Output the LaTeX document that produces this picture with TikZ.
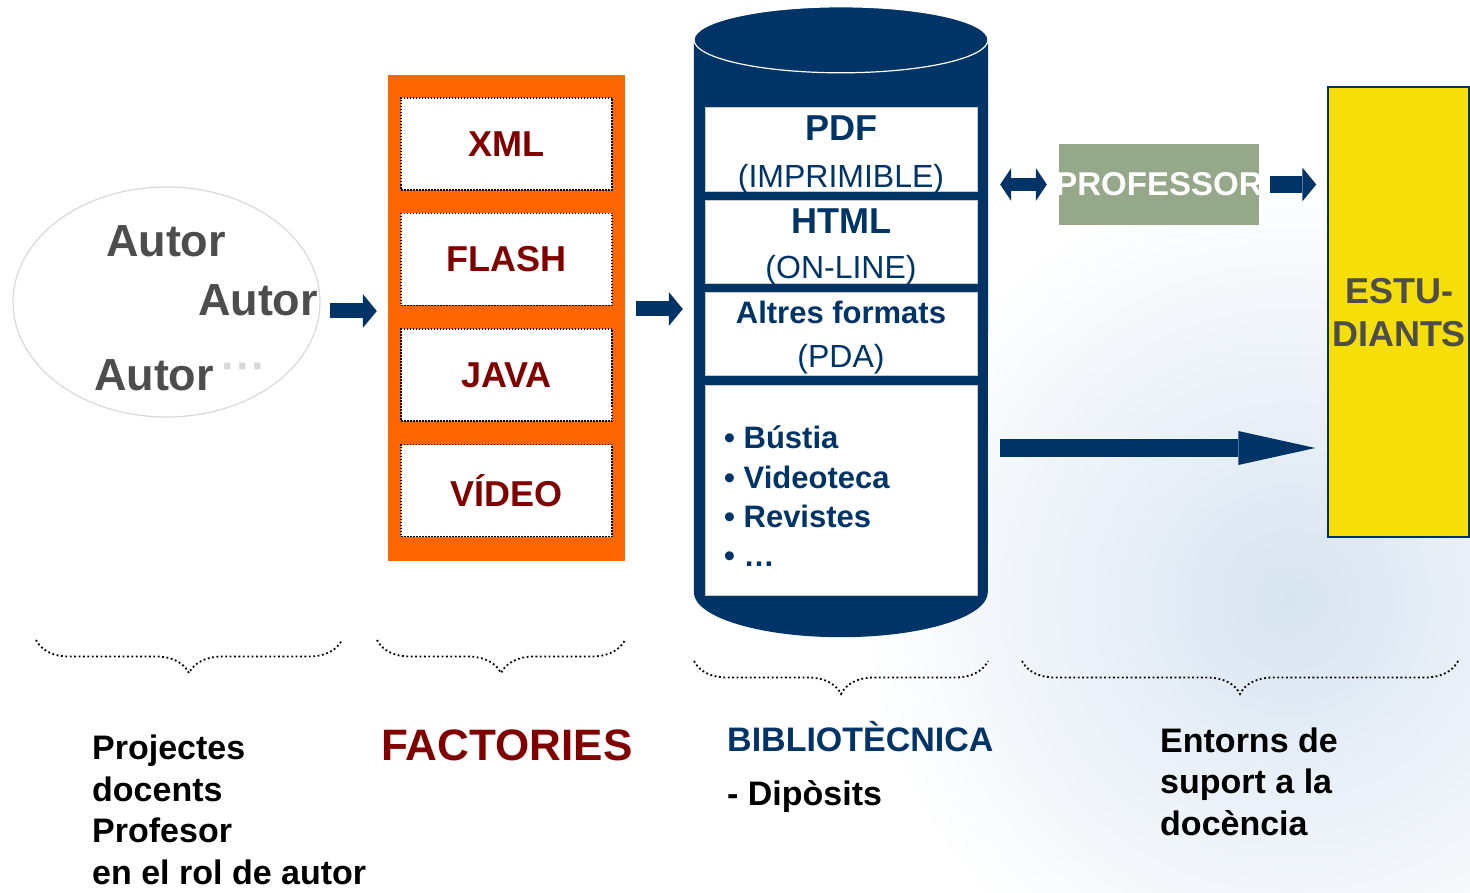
\documentclass[tikz,border=0pt]{standalone}
\usepackage{fontspec}
\setmainfont{Liberation Sans}
\usepackage{tikz}
\usetikzlibrary{shapes.geometric}
\usetikzlibrary{arrows.meta}
\usetikzlibrary{decorations.pathreplacing}
\usetikzlibrary{positioning}

\definecolor{navy}{RGB}{0,51,102}
\definecolor{fabrica}{RGB}{255,102,0}
\definecolor{granat}{RGB}{128,0,0}
\definecolor{gris}{RGB}{77,77,77}
\definecolor{grisclar}{RGB}{217,217,217}
\definecolor{vora}{RGB}{200,200,200}
\definecolor{verd}{RGB}{149,168,138}
\definecolor{groc}{RGB}{246,222,8}
\definecolor{globus}{RGB}{216,228,241}

\begin{document}
\begin{tikzpicture}
		[x=1pt, y=-1pt, node distance={115.5pt},
		autor/.style = {text=gris, inner sep=0pt, font=\fontsize{45}{50}\selectfont\bfseries},
		fbox/.style = {draw, dash pattern=on 1.5pt off 1.5pt, line width=1.5pt, fill=white, minimum width=211pt, minimum height=92pt, inner sep=0pt, text=granat, font=\fontsize{36}{40}\selectfont\bfseries},
		panel/.style = {draw=vora, line width=1pt, fill=white, minimum width=272pt, inner sep=0pt},
		format/.style = {inner sep=0pt, text=navy, align=center},
		fletxa/.style = {draw=navy, line width=15pt, -{Triangle[length=14pt, width=34pt, line width=0pt]}},
		doble/.style = {draw=navy, line width=13pt, {Triangle[length=11pt, width=33pt, line width=0pt]}-{Triangle[length=11pt, width=33pt, line width=0pt]}},
		clau/.style = {decorate, decoration={brace, mirror, amplitude=33pt}, dash pattern=on 1.8pt off 2.6pt, line width=1.8pt},
		peu/.style = {inner sep=0pt, align=left, font=\fontsize{34}{41.5}\selectfont\bfseries}]
	\useasboundingbox (0,0) rectangle (1470,893);
	\shade[inner color=globus, outer color=white] (1290,600) circle (430pt);

	\node[ellipse, draw=grisclar, line width=1.2pt, minimum width=307pt, minimum height=230pt] (autors) at (166.5,302) {};
	\node[autor] (autor1) at (166,241) {Autor};
	\node[autor] (autor2) at (258,300) {Autor};
	\node[autor] (autor3) at (154,375) {Autor};
	\node[autor, text=grisclar] (mes) at (244,372) {···};

	\node[fill=fabrica, minimum width=237pt, minimum height=486pt, inner sep=0pt] (factory) at (506.5,318) {};
	\node[fbox] (xml) at (506.5,144) {XML};
	\node[fbox] (flash) [below of = xml] {FLASH};
	\node[fbox] (java) [below of = flash] {JAVA};
	\node[fbox] (video) [below of = java] {VÍDEO};

	\node[minimum width=294pt, minimum height=552pt, inner sep=0pt] (biblio) at (841,316) {};
	\fill[navy] (biblio.north west) -- (biblio.south west) arc[start angle=180, end angle=360, x radius=147pt, y radius=45pt] -- (biblio.north east) -- cycle;
	\filldraw[fill=navy, draw=white, line width=1.2pt] (biblio.north) ellipse [x radius=147pt, y radius=33pt];
	\node[panel, minimum height=84pt] (pdf) at (841,150) {};
	\node[panel, minimum height=83pt] (html) at (841,242.5) {};
	\node[panel, minimum height=82pt] (altres) at (841,334) {};
	\node[panel, minimum height=210pt] (lista) at (841,490) {};
	\node[format, font=\fontsize{32}{47.5}\selectfont] (pdftxt) at (841,155) {{\fontsize{36}{47.5}\selectfont\bfseries PDF}\\(IMPRIMIBLE)};
	\node[format, font=\fontsize{32}{45.5}\selectfont] (htmltxt) at (841,247) {{\fontsize{36}{45.5}\selectfont\bfseries HTML}\\(ON-LINE)};
	\node[format, font=\fontsize{32}{44}\selectfont] (altrestxt) at (841,338) {{\fontsize{31}{44}\selectfont\bfseries Altres formats}\\(PDA)};
	\node[anchor=west, inner sep=0pt, align=left, text=navy, font=\fontsize{31}{39.3}\selectfont\bfseries] (items) at (724,496.5) {• Bústia\\• Videoteca\\• Revistes\\• …};

	\node[fill=verd, minimum width=200pt, minimum height=81pt, inner sep=0pt, text=white, font=\fontsize{33}{36}\selectfont\bfseries] (prof) at (1159,184.5) {\makebox[190pt]{PROFESSOR}};
	\node[fill=groc, draw=navy, line width=1.5pt, minimum width=141pt, minimum height=450pt] (estud) at (1398.5,312) {};
	\node[text=gris, align=center, inner sep=0pt, font=\fontsize{36}{43}\selectfont\bfseries] (estudtxt) at (1399,313) {ESTU-\\DIANTS};

	\draw[fletxa, shorten <=9pt, shorten >=11pt] (autors.east |- 0,311) -- (factory.west |- 0,311);
	\draw[fletxa, shorten <=11pt, shorten >=11pt] (factory.east |- 0,309) -- (biblio.west |- 0,309);
	\draw[doble, shorten <=12pt, shorten >=12pt] (biblio.east |- prof.west) -- (prof.west);
	\draw[fletxa, line width=17pt, shorten <=11pt, shorten >=11pt] (prof.east) -- (prof.east -| estud.west);
	\draw[draw=navy, line width=18pt, -{Triangle[length=77pt, width=34pt, line width=0pt]}, shorten <=12pt, shorten >=12pt] (biblio.east |- 0,448) -- (estud.west |- 0,448);

	\draw[clau] (36,640) -- (342,640);
	\draw[clau] (377,640) -- (625,640);
	\draw[clau] (694,661) -- (988,661);
	\draw[clau] (1022,661) -- (1458,661);

	\node[peu, anchor=north west] (projectes) at (92,735) {Projectes\\docents\\Profesor\\en el rol de autor};
	\node[inner sep=0pt, text=granat, font=\fontsize{44}{48}\selectfont\bfseries] (factories) at (507,745) {FACTORIES};
	\node[inner sep=0pt, anchor=base west, text=navy, font=\fontsize{34}{40}\selectfont\bfseries] (bibliotecnica) at (727,751.5) {BIBLIOTÈCNICA};
	\node[inner sep=0pt, anchor=base west, font=\fontsize{34}{40}\selectfont\bfseries] (diposits) at (727,805.5) {- Dipòsits};
	\node[peu, anchor=north west] (entorns) at (1160,727.5) {Entorns de\\suport a la\\docència};
\end{tikzpicture}
\end{document}
